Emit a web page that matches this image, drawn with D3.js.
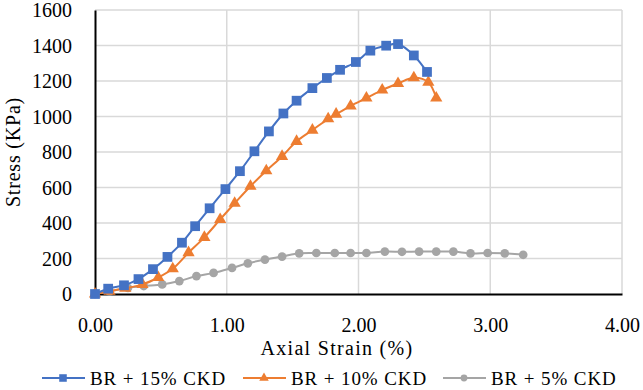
<!DOCTYPE html>
<html>
<head>
<meta charset="utf-8">
<script src="https://cdn.jsdelivr.net/npm/d3@7"></script>
<style>
  body { margin: 0; background: #fff; }
  text { font-family: "Liberation Serif", "DejaVu Serif", serif; fill: #000; }
</style>
</head>
<body>
<div id="chart"></div>
<script>
// strain (%) and stress (KPa)
var strain15 = [0, 0.10, 0.22, 0.33, 0.44, 0.55, 0.66, 0.76, 0.87, 0.99, 1.10, 1.21, 1.32, 1.43, 1.53, 1.65, 1.76, 1.86, 1.98, 2.09, 2.21, 2.30, 2.42, 2.52];
var stress15 = [0, 30, 49, 84, 140, 209, 289, 382, 483, 591, 692, 804, 916, 1017, 1089, 1160, 1217, 1263, 1307, 1371, 1399, 1408, 1344, 1251];

var strain10 = [0, 0.11, 0.23, 0.36, 0.48, 0.59, 0.71, 0.83, 0.95, 1.06, 1.18, 1.30, 1.42, 1.53, 1.65, 1.77, 1.83, 1.94, 2.06, 2.18, 2.30, 2.42, 2.53, 2.59];
var stress10 = [0, 15, 32, 54, 93, 142, 233, 319, 420, 511, 607, 694, 775, 860, 923, 987, 1013, 1059, 1104, 1149, 1186, 1218, 1193, 1104];

var strain5 = [0, 0.11, 0.25, 0.37, 0.51, 0.64, 0.77, 0.90, 1.04, 1.16, 1.29, 1.42, 1.55, 1.68, 1.82, 1.94, 2.06, 2.20, 2.33, 2.46, 2.59, 2.72, 2.85, 2.98, 3.11, 3.25];
var stress5 = [0, 15, 35, 45, 54, 73, 101, 119, 147, 173, 194, 211, 229, 231, 231, 231, 231, 239, 238, 239, 239, 239, 229, 231, 229, 221];

var seriesNames = ["BR + 15% CKD", "BR + 10% CKD", "BR + 5% CKD"];
var xTicks = [0, 1, 2, 3, 4];
var yTicks = [0, 200, 400, 600, 800, 1000, 1200, 1400, 1600];

var svgWidth = 643, svgHeight = 390;
var margin = {top: 10, right: 21, bottom: 96, left: 95},
    width = svgWidth - margin.left - margin.right,
    height = svgHeight - margin.top - margin.bottom;

var svg = d3.select("#chart")
  .append("svg")
    .attr("width", svgWidth)
    .attr("height", svgHeight);

var g = svg.append("g")
    .attr("transform", "translate(" + margin.left + "," + margin.top + ")");

var x = d3.scaleLinear().domain([0, 4]).range([0, width]);
var y = d3.scaleLinear().domain([0, 1600]).range([height, 0]);

// gridlines
g.append("g")
  .selectAll("line")
  .data(yTicks.slice(1))
  .join("line")
    .attr("x1", 0).attr("x2", width)
    .attr("y1", d => y(d)).attr("y2", d => y(d))
    .attr("stroke", "#d9d9d9").attr("stroke-width", 1.5);
g.append("g")
  .selectAll("line")
  .data(xTicks.slice(1))
  .join("line")
    .attr("x1", d => x(d)).attr("x2", d => x(d))
    .attr("y1", 0).attr("y2", height)
    .attr("stroke", "#d9d9d9").attr("stroke-width", 1.5);

// axes
var xAxis = g.append("g")
  .attr("transform", "translate(0," + height + ")")
  .call(d3.axisBottom(x).tickValues(xTicks).tickFormat(d3.format(".2f")).tickSize(0).tickPadding(24));
var yAxis = g.append("g")
  .call(d3.axisLeft(y).tickValues(yTicks).tickFormat(d3.format("d")).tickSize(0).tickPadding(23));
[xAxis, yAxis].forEach(function(a) {
  a.select(".domain").attr("stroke", "#000").attr("stroke-width", 2);
  a.selectAll("text").style("font-size", "20px").attr("fill", "#000")
    .style("font-family", "'Liberation Serif', serif");
});
yAxis.selectAll("text").attr("dy", "0.33em");

var series = [
  {name: seriesNames[0], xs: strain15, ys: stress15, color: "#4472c4", marker: d3.symbolSquare, size: 95},
  {name: seriesNames[1], xs: strain10, ys: stress10, color: "#ed7d31", marker: d3.symbolTriangle, size: 65},
  {name: seriesNames[2], xs: strain5, ys: stress5, color: "#a5a5a5", marker: d3.symbolCircle, size: 60}
];

var line = d3.line()
  .x(d => x(d[0]))
  .y(d => y(d[1]))
  .curve(d3.curveCatmullRom.alpha(0.5));

// draw gray first so blue sits on top, like the original
series.slice().reverse().forEach(function(s) {
  var pts = s.xs.map((v, i) => [v, s.ys[i]]);
  g.append("path")
    .datum(pts)
    .attr("fill", "none")
    .attr("stroke", s.color)
    .attr("stroke-width", 2)
    .attr("d", line);
  g.append("g")
    .selectAll("path")
    .data(pts)
    .join("path")
      .attr("transform", d => "translate(" + x(d[0]) + "," + y(d[1]) + ")")
      .attr("d", d3.symbol().type(s.marker).size(s.size))
      .attr("fill", s.color);
});

// axis titles
svg.append("text")
  .attr("x", 337).attr("y", 355)
  .attr("text-anchor", "middle")
  .style("font-size", "20px")
  .style("letter-spacing", "1.3px")
  .text("Axial Strain (%)");

svg.append("text")
  .attr("transform", "translate(20," + (margin.top + height / 2) + ") rotate(-90)")
  .attr("text-anchor", "middle")
  .style("font-size", "20px")
  .style("letter-spacing", "0.8px")
  .text("Stress (KPa)");

// legend
var legendX = [42, 243, 443];
var legend = svg.append("g");
series.forEach(function(s, i) {
  var lg = legend.append("g").attr("transform", "translate(" + legendX[i] + ",378)");
  lg.append("line").attr("x1", 0).attr("x2", 43).attr("y1", 0).attr("y2", 0)
    .attr("stroke", s.color).attr("stroke-width", 2);
  lg.append("path").attr("transform", "translate(21,0)")
    .attr("d", d3.symbol().type(s.marker).size(s.size * 0.6))
    .attr("fill", s.color);
  lg.append("text").attr("x", 48).attr("y", 0).attr("dy", "0.35em")
    .style("font-size", "19px")
    .style("letter-spacing", "0.9px")
    .text(s.name);
});
</script>
</body>
</html>
